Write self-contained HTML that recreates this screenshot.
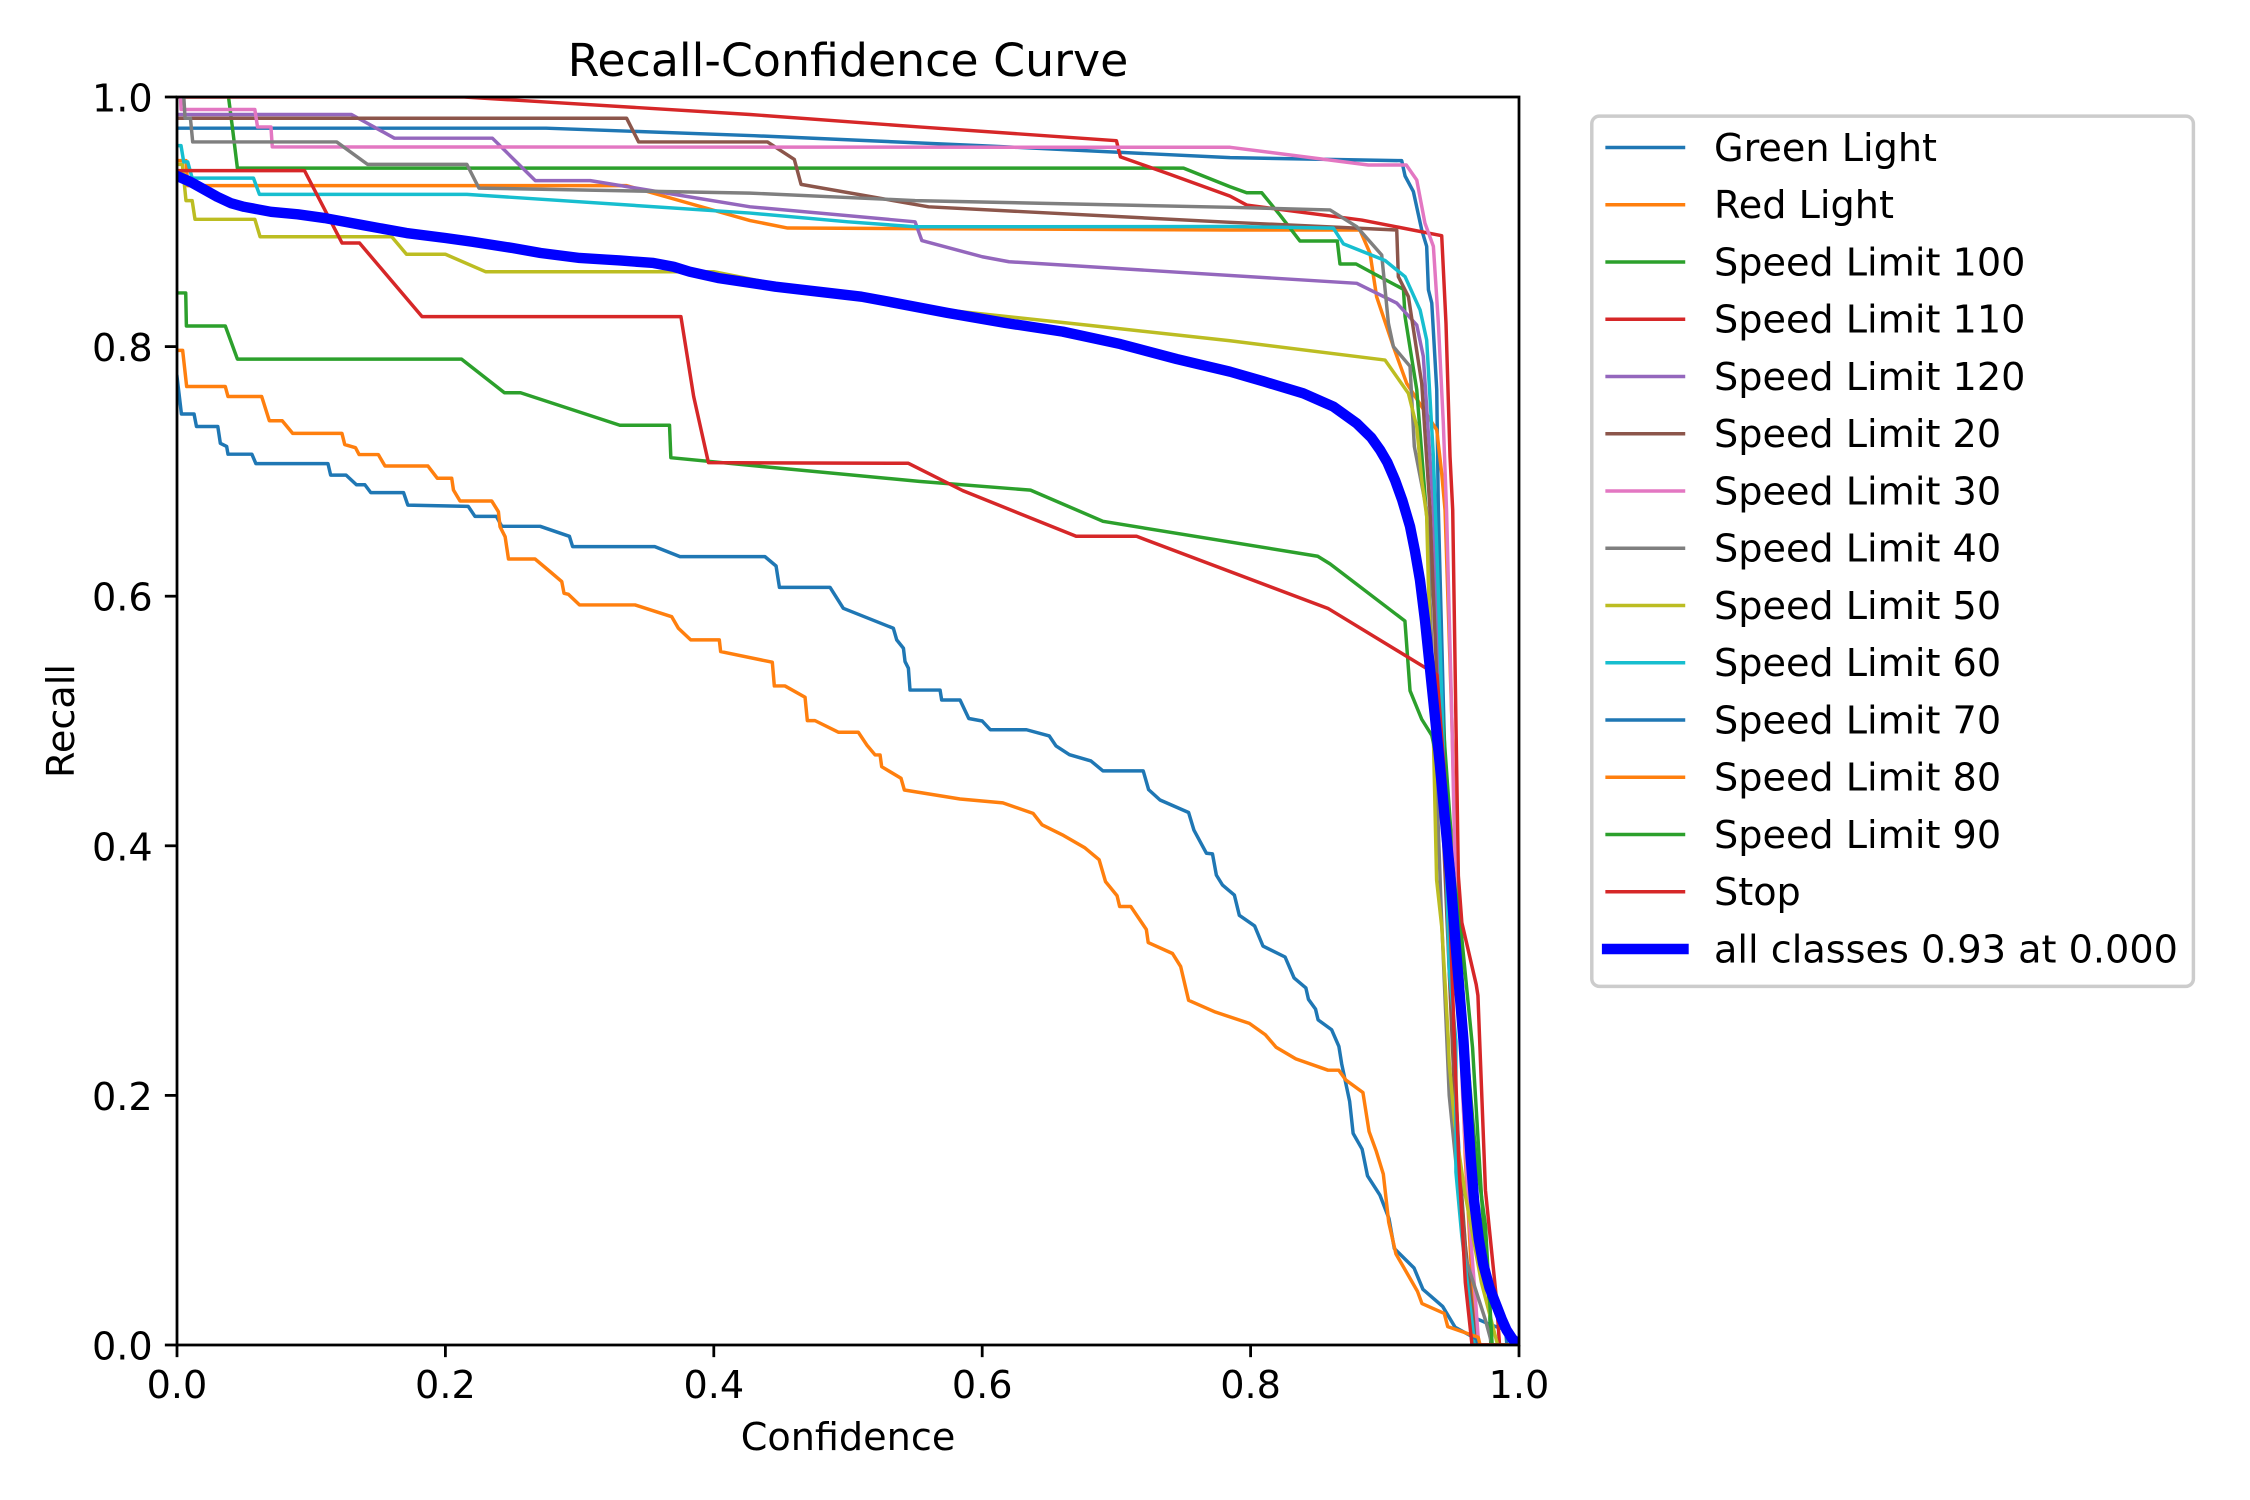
<!DOCTYPE html>
<html>
<head>
<meta charset="utf-8">
<style>
html,body{margin:0;padding:0;background:#fff;}
svg{display:block;}
text{font-family:"DejaVu Sans","Liberation Sans",sans-serif;fill:#000;}
.c{fill:none;stroke-width:3.47;stroke-linejoin:round;stroke-linecap:square;}
</style>
</head>
<body>
<svg width="2250" height="1500" viewBox="0 0 2250 1500" xmlns="http://www.w3.org/2000/svg">
<rect x="0" y="0" width="2250" height="1500" fill="#fff"/>
<defs>
<clipPath id="ax" clipPathUnits="userSpaceOnUse"><rect x="0" y="0" width="1" height="1"/></clipPath>
</defs>

<g transform="translate(177,1345) scale(1342,-1248)" clip-path="url(#ax)">
<!-- Green Light -->
<polyline class="c" vector-effect="non-scaling-stroke" stroke="#1f77b4" points="0,0.975 0.275,0.975 0.43,0.969 0.6,0.961 0.7847,0.9514 0.9126,0.949 0.9151,0.9367 0.9213,0.9242 0.9275,0.8935 0.9312,0.8803 0.9325,0.8455 0.935,0.8349 0.9387,0.7655 0.9399,0.669 0.944,0.5 0.948,0.35 0.953,0.2 0.958,0.1 0.9626,0.039 0.9666,0.022 0.9788,0.0162 0.99,0.012 0.991,0 1,0"/>
<!-- Red Light -->
<polyline class="c" vector-effect="non-scaling-stroke" stroke="#ff7f0e" points="0,0.949 0.0067,0.949 0.008,0.929 0.335,0.929 0.427,0.901 0.455,0.895 0.7847,0.8934 0.8815,0.8934 0.889,0.8747 0.8939,0.84 0.9064,0.8 0.9163,0.7706 0.9387,0.7332 0.9424,0.6985 0.9449,0.669 0.95,0.5 0.955,0.3 0.96,0.15 0.965,0.05 0.97,0 1,0"/>
<!-- Speed Limit 100 -->
<polyline class="c" vector-effect="non-scaling-stroke" stroke="#2ca02c" points="0,1.02 0.036,1.02 0.041,0.978 0.045,0.943 0.75,0.943 0.7847,0.9281 0.7971,0.9233 0.8083,0.9233 0.8219,0.9054 0.8368,0.8846 0.8646,0.8846 0.8666,0.8662 0.8786,0.8662 0.8915,0.8587 0.9139,0.8459 0.9151,0.824 0.9238,0.7655 0.93,0.68 0.94,0.55 0.95,0.4 0.957,0.33 0.9654,0.238 0.972,0.12 0.978,0.03 0.979,0 1,0"/>
<!-- Speed Limit 110 -->
<polyline class="c" vector-effect="non-scaling-stroke" stroke="#d62728" points="0,1.0 0.214,1.0 0.427,0.986 0.553,0.976 0.7,0.965 0.703,0.952 0.74,0.938 0.7847,0.9206 0.7971,0.9134 0.8828,0.9014 0.9424,0.8889 0.9456,0.8186 0.9486,0.7118 0.9506,0.669 0.953,0.5 0.9548,0.376 0.9574,0.3385 0.9681,0.2889 0.9694,0.28 0.975,0.124 0.983,0.039 0.9855,0 1,0"/>
<!-- Speed Limit 120 -->
<polyline class="c" vector-effect="non-scaling-stroke" stroke="#9467bd" points="0,0.986 0.13,0.986 0.162,0.967 0.235,0.967 0.267,0.933 0.308,0.933 0.427,0.912 0.55,0.9 0.555,0.885 0.6,0.872 0.62,0.868 0.8791,0.8507 0.9089,0.8349 0.9238,0.8173 0.9287,0.7922 0.9362,0.669 0.942,0.5 0.948,0.3 0.955,0.15 0.962,0.05 0.965,0 1,0"/>
<!-- Speed Limit 20 -->
<polyline class="c" vector-effect="non-scaling-stroke" stroke="#8c564b" points="0,0.983 0.335,0.983 0.344,0.964 0.44,0.964 0.46,0.95 0.465,0.93 0.56,0.912 0.7847,0.8996 0.9089,0.8934 0.9101,0.856 0.9176,0.84 0.9275,0.7706 0.9337,0.669 0.94,0.5 0.946,0.35 0.952,0.2 0.96,0.08 0.966,0.02 0.97,0 1,0"/>
<!-- Speed Limit 30 -->
<polyline class="c" vector-effect="non-scaling-stroke" stroke="#e377c2" points="0,1.02 0.002,1.02 0.003,0.99 0.058,0.99 0.06,0.976 0.07,0.976 0.071,0.96 0.7847,0.9597 0.8877,0.9455 0.916,0.9455 0.9238,0.9335 0.9299,0.899 0.9362,0.8803 0.9399,0.819 0.9436,0.7385 0.946,0.669 0.95,0.5 0.953,0.35 0.958,0.2 0.963,0.1 0.968,0.03 0.97,0 1,0"/>
<!-- Speed Limit 40 -->
<polyline class="c" vector-effect="non-scaling-stroke" stroke="#7f7f7f" points="0,1.02 0.004,1.02 0.006,0.983 0.01,0.983 0.0117,0.964 0.119,0.964 0.142,0.946 0.216,0.946 0.225,0.927 0.427,0.923 0.55,0.917 0.7847,0.9116 0.8592,0.9095 0.8791,0.8961 0.8977,0.8734 0.9027,0.8186 0.9064,0.8 0.9188,0.7842 0.922,0.72 0.9312,0.669 0.937,0.5 0.942,0.35 0.948,0.2 0.96,0.07 0.975,0.02 0.98,0 1,0"/>
<!-- Speed Limit 50 -->
<polyline class="c" vector-effect="non-scaling-stroke" stroke="#bcbd22" points="0,0.946 0.004,0.946 0.0067,0.917 0.0113,0.917 0.0134,0.902 0.058,0.902 0.0619,0.888 0.16,0.888 0.171,0.874 0.2,0.874 0.2299,0.86 0.4,0.86 0.47,0.845 0.55,0.832 0.68,0.817 0.7847,0.8047 0.9002,0.7892 0.9176,0.7625 0.9238,0.7358 0.9275,0.6931 0.9312,0.6645 0.9324,0.613 0.9361,0.4931 0.9386,0.3726 0.9424,0.3354 0.9448,0.2925 0.9473,0.2444 0.948,0.226 0.952,0.1781 0.96,0.12 0.972,0.05 0.9841,0 1,0"/>
<!-- Speed Limit 60 -->
<polyline class="c" vector-effect="non-scaling-stroke" stroke="#17becf" points="0,0.961 0.003,0.961 0.005,0.948 0.008,0.948 0.0113,0.935 0.057,0.935 0.0614,0.922 0.216,0.922 0.427,0.907 0.5,0.9 0.55,0.896 0.7847,0.8962 0.8617,0.8949 0.8692,0.8823 0.9002,0.869 0.9151,0.856 0.9263,0.8294 0.9312,0.8053 0.9362,0.7118 0.94,0.6 0.943,0.5 0.948,0.3 0.953,0.2435 0.953,0.1385 0.9574,0.0872 0.967,0 1,0"/>
<!-- Speed Limit 70 -->
<polyline class="c" vector-effect="non-scaling-stroke" stroke="#1f77b4" points="0,0.776 0.0033,0.746 0.0127,0.746 0.0145,0.736 0.0304,0.736 0.0323,0.7225 0.037,0.72 0.038,0.7138 0.0558,0.7138 0.0588,0.7062 0.1125,0.7062 0.1145,0.697 0.126,0.697 0.1337,0.6893 0.14,0.6893 0.1444,0.683 0.1688,0.683 0.172,0.673 0.217,0.672 0.222,0.664 0.238,0.664 0.242,0.656 0.2706,0.656 0.2924,0.648 0.2948,0.6397 0.356,0.6397 0.3748,0.6317 0.4381,0.6317 0.4464,0.6242 0.4489,0.6071 0.4866,0.6071 0.4965,0.5903 0.5338,0.5743 0.5363,0.565 0.5413,0.5583 0.5425,0.5476 0.545,0.5423 0.5462,0.5248 0.5686,0.5248 0.5698,0.5168 0.5835,0.5168 0.59,0.502 0.6,0.5 0.606,0.493 0.633,0.493 0.65,0.488 0.655,0.48 0.665,0.473 0.681,0.468 0.69,0.46 0.72,0.46 0.724,0.445 0.7325,0.4367 0.7538,0.4267 0.7578,0.4125 0.7671,0.394 0.7716,0.3935 0.7745,0.3765 0.7791,0.3685 0.7879,0.3605 0.7916,0.3443 0.803,0.3358 0.8092,0.3197 0.8257,0.3109 0.8324,0.2941 0.8412,0.2861 0.8431,0.277 0.8484,0.2691 0.8503,0.2605 0.8604,0.2526 0.8658,0.2392 0.8679,0.2251 0.8738,0.1952 0.8764,0.1696 0.8831,0.1569 0.8871,0.1356 0.8964,0.12 0.9031,0.1014 0.9071,0.0773 0.9218,0.0617 0.9284,0.0446 0.9431,0.0309 0.9524,0.0142 0.9684,0.0048 0.9696,0 1,0"/>
<!-- Speed Limit 80 -->
<polyline class="c" vector-effect="non-scaling-stroke" stroke="#ff7f0e" points="0,0.797 0.0042,0.797 0.0072,0.768 0.036,0.768 0.038,0.76 0.0631,0.76 0.0688,0.7406 0.0784,0.7406 0.0862,0.7305 0.1229,0.7305 0.125,0.7215 0.133,0.719 0.1357,0.7135 0.15,0.7135 0.155,0.7043 0.187,0.7043 0.194,0.6945 0.2047,0.6945 0.206,0.6851 0.2109,0.6763 0.2345,0.6763 0.2395,0.6677 0.2407,0.6557 0.2445,0.6477 0.247,0.6298 0.2668,0.6298 0.278,0.6197 0.2867,0.6117 0.2884,0.6023 0.2917,0.6015 0.2999,0.593 0.3413,0.593 0.3686,0.5836 0.3736,0.5743 0.3828,0.565 0.4041,0.565 0.4051,0.5556 0.4436,0.5471 0.4451,0.5281 0.453,0.5281 0.468,0.519 0.4697,0.5003 0.4754,0.5003 0.4928,0.491 0.5077,0.491 0.514,0.4808 0.5202,0.4728 0.5239,0.4728 0.5251,0.4634 0.5395,0.4541 0.542,0.4447 0.5835,0.4375 0.6154,0.4344 0.6379,0.426 0.6446,0.4168 0.6606,0.4083 0.6766,0.3983 0.6871,0.3889 0.6919,0.3713 0.7005,0.36 0.7024,0.3514 0.7107,0.3514 0.7223,0.333 0.7237,0.3225 0.7418,0.3137 0.7479,0.3032 0.7538,0.2762 0.7737,0.2668 0.7991,0.2577 0.811,0.2486 0.819,0.2386 0.8337,0.2293 0.8577,0.2202 0.8657,0.2202 0.871,0.2123 0.8837,0.2023 0.8883,0.171 0.8936,0.1554 0.8989,0.1369 0.9029,0.0985 0.9083,0.073 0.9243,0.0431 0.9277,0.0332 0.9443,0.0253 0.9469,0.0147 0.9696,0.0062 0.971,0 1,0"/>
<!-- Speed Limit 90 -->
<polyline class="c" vector-effect="non-scaling-stroke" stroke="#2ca02c" points="0,0.843 0.0065,0.843 0.007,0.8165 0.036,0.8165 0.045,0.79 0.212,0.79 0.244,0.763 0.256,0.763 0.33,0.737 0.367,0.737 0.368,0.711 0.435,0.704 0.553,0.692 0.636,0.685 0.69,0.66 0.85,0.632 0.8592,0.6259 0.915,0.5801 0.9188,0.5243 0.9275,0.5014 0.935,0.4885 0.945,0.44 0.955,0.34 0.96,0.25 0.968,0.15 0.975,0.096 0.98,0 1,0"/>
<!-- Stop -->
<polyline class="c" vector-effect="non-scaling-stroke" stroke="#d62728" points="0,0.941 0.095,0.941 0.123,0.883 0.136,0.883 0.1826,0.824 0.3755,0.824 0.385,0.76 0.396,0.707 0.545,0.7065 0.5855,0.6846 0.67,0.648 0.715,0.648 0.858,0.59 0.9389,0.537 0.945,0.45 0.95,0.3 0.955,0.15 0.96,0.05 0.965,0 1,0"/>
<!-- all classes -->
<polyline fill="none" stroke="#0000ff" stroke-width="10.4" stroke-linejoin="round" stroke-linecap="square" vector-effect="non-scaling-stroke" points="0,0.9367 0.01,0.932 0.02,0.926 0.03,0.92 0.04,0.915 0.05,0.912 0.06,0.91 0.07,0.908 0.09,0.906 0.11,0.903 0.14,0.897 0.171,0.891 0.2,0.887 0.22,0.884 0.25,0.879 0.271,0.875 0.3,0.871 0.33,0.869 0.355,0.867 0.37,0.864 0.382,0.86 0.403,0.855 0.446,0.848 0.51,0.84 0.53,0.836 0.574,0.827 0.617,0.819 0.66,0.812 0.703,0.802 0.745,0.79 0.7847,0.7799 0.81,0.772 0.8393,0.7625 0.8617,0.7519 0.8791,0.7385 0.89,0.727 0.8965,0.7171 0.902,0.707 0.9076,0.6931 0.913,0.677 0.9188,0.6559 0.9225,0.636 0.9262,0.613 0.93,0.58 0.9337,0.5416 0.9374,0.503 0.9411,0.4642 0.9448,0.421 0.9486,0.3784 0.9536,0.31 0.9586,0.2444 0.9613,0.195 0.964,0.15 0.9666,0.115 0.97,0.085 0.9733,0.065 0.978,0.046 0.9834,0.031 0.987,0.021 0.9907,0.012 0.995,0.005 1,0"/>
</g>

<!-- spines -->
<rect x="177" y="97" width="1342" height="1248" fill="none" stroke="#000" stroke-width="2.78" stroke-linejoin="miter"/>

<!-- ticks -->
<g stroke="#000" stroke-width="2.78">
<line x1="177" y1="1345" x2="177" y2="1357.15"/>
<line x1="445.4" y1="1345" x2="445.4" y2="1357.15"/>
<line x1="713.8" y1="1345" x2="713.8" y2="1357.15"/>
<line x1="982.2" y1="1345" x2="982.2" y2="1357.15"/>
<line x1="1250.6" y1="1345" x2="1250.6" y2="1357.15"/>
<line x1="1519" y1="1345" x2="1519" y2="1357.15"/>
<line x1="164.85" y1="1345" x2="177" y2="1345"/>
<line x1="164.85" y1="1095.4" x2="177" y2="1095.4"/>
<line x1="164.85" y1="845.8" x2="177" y2="845.8"/>
<line x1="164.85" y1="596.2" x2="177" y2="596.2"/>
<line x1="164.85" y1="346.6" x2="177" y2="346.6"/>
<line x1="164.85" y1="97" x2="177" y2="97"/>
</g>

<!-- tick labels -->
<g font-size="38.19" text-anchor="middle">
<text x="177" y="1398">0.0</text>
<text x="445.4" y="1398">0.2</text>
<text x="713.8" y="1398">0.4</text>
<text x="982.2" y="1398">0.6</text>
<text x="1250.6" y="1398">0.8</text>
<text x="1519" y="1398">1.0</text>
</g>
<g font-size="38.19" text-anchor="end">
<text x="152.7" y="1359.5">0.0</text>
<text x="152.7" y="1109.9">0.2</text>
<text x="152.7" y="860.3">0.4</text>
<text x="152.7" y="610.7">0.6</text>
<text x="152.7" y="361.1">0.8</text>
<text x="152.7" y="111.5">1.0</text>
</g>

<!-- axis labels & title -->
<text x="848" y="1450" font-size="38.19" text-anchor="middle">Confidence</text>
<text transform="translate(74,721) rotate(-90)" font-size="38.19" text-anchor="middle">Recall</text>
<text x="848" y="76.2" font-size="45.83" text-anchor="middle">Recall-Confidence Curve</text>

<!-- legend -->
<rect x="1591.8" y="116.1" width="601.6" height="870.25" rx="7.6" ry="7.6" fill="#fff" fill-opacity="0.8" stroke="#cccccc" stroke-width="3.47"/>
<g stroke-width="3.47" stroke-linecap="square">
<line x1="1607.1" x2="1683.5" y1="147.5" y2="147.5" stroke="#1f77b4"/>
<line x1="1607.1" x2="1683.5" y1="204.75" y2="204.75" stroke="#ff7f0e"/>
<line x1="1607.1" x2="1683.5" y1="262" y2="262" stroke="#2ca02c"/>
<line x1="1607.1" x2="1683.5" y1="319.25" y2="319.25" stroke="#d62728"/>
<line x1="1607.1" x2="1683.5" y1="376.5" y2="376.5" stroke="#9467bd"/>
<line x1="1607.1" x2="1683.5" y1="433.75" y2="433.75" stroke="#8c564b"/>
<line x1="1607.1" x2="1683.5" y1="491" y2="491" stroke="#e377c2"/>
<line x1="1607.1" x2="1683.5" y1="548.25" y2="548.25" stroke="#7f7f7f"/>
<line x1="1607.1" x2="1683.5" y1="605.5" y2="605.5" stroke="#bcbd22"/>
<line x1="1607.1" x2="1683.5" y1="662.75" y2="662.75" stroke="#17becf"/>
<line x1="1607.1" x2="1683.5" y1="720" y2="720" stroke="#1f77b4"/>
<line x1="1607.1" x2="1683.5" y1="777.25" y2="777.25" stroke="#ff7f0e"/>
<line x1="1607.1" x2="1683.5" y1="834.5" y2="834.5" stroke="#2ca02c"/>
<line x1="1607.1" x2="1683.5" y1="891.75" y2="891.75" stroke="#d62728"/>
<line x1="1607.1" x2="1683.5" y1="949" y2="949" stroke="#0000ff" stroke-width="10.4"/>
</g>
<g font-size="38.19">
<text x="1714" y="160.9">Green Light</text>
<text x="1714" y="218.15">Red Light</text>
<text x="1714" y="275.4">Speed Limit 100</text>
<text x="1714" y="332.65">Speed Limit 110</text>
<text x="1714" y="389.9">Speed Limit 120</text>
<text x="1714" y="447.15">Speed Limit 20</text>
<text x="1714" y="504.4">Speed Limit 30</text>
<text x="1714" y="561.65">Speed Limit 40</text>
<text x="1714" y="618.9">Speed Limit 50</text>
<text x="1714" y="676.15">Speed Limit 60</text>
<text x="1714" y="733.4">Speed Limit 70</text>
<text x="1714" y="790.65">Speed Limit 80</text>
<text x="1714" y="847.9">Speed Limit 90</text>
<text x="1714" y="905.15">Stop</text>
<text x="1714" y="962.4">all classes 0.93 at 0.000</text>
</g>
</svg>
</body>
</html>
